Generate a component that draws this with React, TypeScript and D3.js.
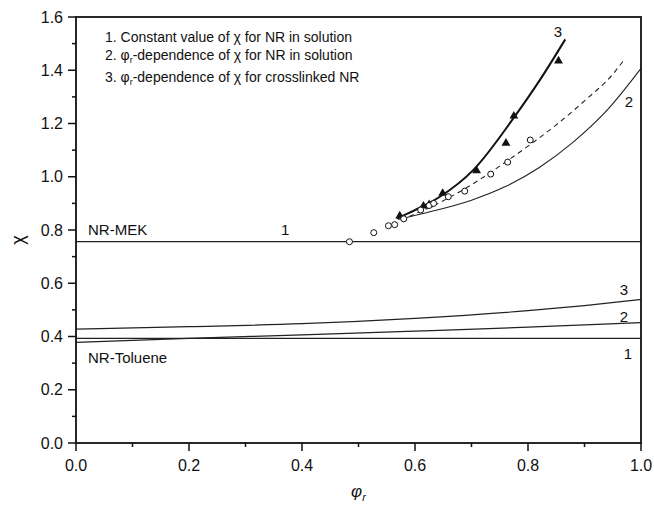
import React from "react";
import * as d3 from "d3";

const xTicks = [0, 0.2, 0.4, 0.6, 0.8, 1.0];
const yTicks = [0, 0.2, 0.4, 0.6, 0.8, 1.0, 1.2, 1.4, 1.6];
const xMinor = [0.1, 0.3, 0.5, 0.7, 0.9];
const yMinor = [0.1, 0.3, 0.5, 0.7, 0.9, 1.1, 1.3, 1.5];

const mekConst = 0.756;
const tolConst = 0.393;

const mek3X = [0.568, 0.6, 0.644, 0.703, 0.774, 0.82, 0.866];
const mek3Y = [0.844, 0.875, 0.925, 1.025, 1.219, 1.36, 1.516];
const mekDashX = [0.575, 0.65, 0.7, 0.75, 0.8, 0.85, 0.9, 0.95, 0.969];
const mekDashY = [0.838, 0.91, 0.97, 1.04, 1.115, 1.195, 1.285, 1.385, 1.436];
const mek2X = [0.57, 0.62, 0.7, 0.76, 0.82, 0.88, 0.94, 1.0];
const mek2Y = [0.84, 0.865, 0.912, 0.963, 1.035, 1.13, 1.25, 1.407];

const tol3X = [0, 0.2, 0.4, 0.6, 0.8, 0.9, 1.0];
const tol3Y = [0.428, 0.437, 0.448, 0.468, 0.497, 0.516, 0.539];
const tol2X = [0, 0.2, 0.4, 0.6, 0.8, 1.0];
const tol2Y = [0.378, 0.393, 0.406, 0.42, 0.435, 0.452];

const circX = [0.484, 0.527, 0.553, 0.564, 0.58, 0.61, 0.625, 0.633, 0.659, 0.688, 0.734, 0.764, 0.804];
const circY = [0.756, 0.79, 0.816, 0.82, 0.842, 0.875, 0.892, 0.9, 0.925, 0.946, 1.01, 1.055, 1.138];
const triX = [0.573, 0.615, 0.625, 0.649, 0.709, 0.761, 0.775, 0.854];
const triY = [0.853, 0.89, 0.895, 0.938, 1.023, 1.126, 1.228, 1.435];

const legendItems = ["1. Constant value of χ for NR in solution", "2. φ|-dependence of χ for NR in solution", "3. φ|-dependence of χ for crosslinked NR"];

const W = 654, H = 510;
const L = 76, R = 641, T = 17, B = 443;
const font = "Liberation Sans, Arial, sans-serif";

export default function App() {
  const x = d3.scaleLinear().domain([0, 1]).range([L, R]);
  const y = d3.scaleLinear().domain([0, 1.6]).range([B, T]);
  const line = (xs: number[], ys: number[]) =>
    d3.line<number>().x((_, i) => x(xs[i])).y((_, i) => y(ys[i])).curve(d3.curveMonotoneX)(xs) || "";
  const tri = d3.symbol().type(d3.symbolTriangle).size(34)() || "";

  const renderLegend = (s: string) => {
    const parts = s.split("|");
    if (parts.length === 1) return s;
    return (
      <>
        {parts[0]}
        <tspan fontSize={9} dy={3}>r</tspan>
        <tspan dy={-3}>{parts[1]}</tspan>
      </>
    );
  };
  const legendY = [42, 60, 82];

  return (
    <svg width={W} height={H} style={{ display: "block", position: "absolute", left: 0, top: 0 }}>
      <rect width={W} height={H} fill="#fff" />
      <line x1={x(0)} x2={x(1)} y1={y(mekConst)} y2={y(mekConst)} stroke="#222" strokeWidth={1.3} />
      <line x1={x(0)} x2={x(1)} y1={y(tolConst)} y2={y(tolConst)} stroke="#222" strokeWidth={1.3} />
      <path d={line(tol3X, tol3Y)} fill="none" stroke="#222" strokeWidth={1.2} />
      <path d={line(tol2X, tol2Y)} fill="none" stroke="#222" strokeWidth={1.2} />
      <path d={line(mek2X, mek2Y)} fill="none" stroke="#222" strokeWidth={1.1} />
      <path d={line(mekDashX, mekDashY)} fill="none" stroke="#222" strokeWidth={1.1} strokeDasharray="5,4" />
      <path d={line(mek3X, mek3Y)} fill="none" stroke="#111" strokeWidth={2} />
      {triX.map((v, i) => (
        <path key={"t" + i} d={tri} transform={`translate(${x(v)},${y(triY[i])})`} fill="#111" />
      ))}
      {circX.map((v, i) => (
        <circle key={"c" + i} cx={x(v)} cy={y(circY[i])} r={3} fill="#fff" stroke="#111" strokeWidth={1} />
      ))}
      <rect x={L} y={T} width={R - L} height={B - T} fill="none" stroke="#111" strokeWidth={1.8} />
      {xTicks.map((t) => (
        <g key={"xt" + t}>
          <line x1={x(t)} x2={x(t)} y1={B} y2={B + 8} stroke="#111" strokeWidth={1.5} />
          <text x={x(t)} y={B + 28} textAnchor="middle" fontFamily={font} fontSize={16} fill="#111">{t.toFixed(1)}</text>
        </g>
      ))}
      {xMinor.map((t) => (
        <line key={"xm" + t} x1={x(t)} x2={x(t)} y1={B} y2={B + 4} stroke="#111" strokeWidth={1.5} />
      ))}
      {yTicks.map((t) => (
        <g key={"yt" + t}>
          <line x1={L - 8} x2={L} y1={y(t)} y2={y(t)} stroke="#111" strokeWidth={1.5} />
          <text x={L - 13} y={y(t) + 5.5} textAnchor="end" fontFamily={font} fontSize={16} fill="#111">{t.toFixed(1)}</text>
        </g>
      ))}
      {yMinor.map((t) => (
        <line key={"ym" + t} x1={L - 4} x2={L} y1={y(t)} y2={y(t)} stroke="#111" strokeWidth={1.5} />
      ))}
      <text transform={`translate(24,${(T + B) / 2 + 10}) rotate(-90)`} textAnchor="middle" fontFamily={font} fontSize={18} fill="#111">χ</text>
      <text x={(L + R) / 2} y={497} textAnchor="middle" fontFamily={font} fontSize={17} fontStyle="italic" fill="#111">
        φ<tspan fontSize={11} dy={4}>r</tspan>
      </text>
      {legendItems.map((s, i) => (
        <text key={"lg" + i} x={105} y={legendY[i]} fontFamily={font} fontSize={14} fill="#111">{renderLegend(s)}</text>
      ))}
      <text x={88} y={235} fontFamily={font} fontSize={15} fill="#111">NR-MEK</text>
      <text x={88} y={363} fontFamily={font} fontSize={15} fill="#111">NR-Toluene</text>
      <text x={x(0.37)} y={235} textAnchor="middle" fontFamily={font} fontSize={15} fill="#111">1</text>
      <text x={558} y={37} textAnchor="middle" fontFamily={font} fontSize={15} fill="#111">3</text>
      <text x={629} y={107} textAnchor="middle" fontFamily={font} fontSize={15} fill="#111">2</text>
      <text x={624} y={295} textAnchor="middle" fontFamily={font} fontSize={15} fill="#111">3</text>
      <text x={624} y={322} textAnchor="middle" fontFamily={font} fontSize={15} fill="#111">2</text>
      <text x={628} y={359} textAnchor="middle" fontFamily={font} fontSize={15} fill="#111">1</text>
    </svg>
  );
}
